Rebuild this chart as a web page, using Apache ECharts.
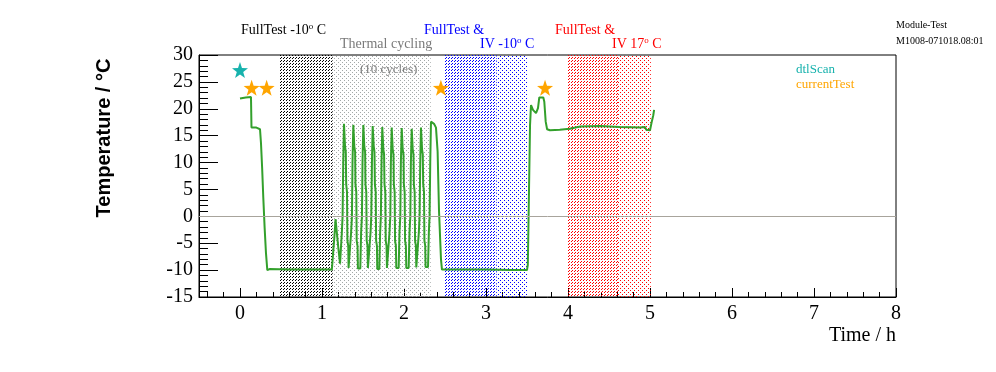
<!DOCTYPE html>
<html>
<head>
<meta charset="utf-8">
<script src="https://cdn.jsdelivr.net/npm/echarts@6/dist/echarts.min.js"></script>
<style>
html,body{margin:0;padding:0;background:#fff;}
#chart{width:996px;height:372px;}
</style>
</head>
<body>
<div id="chart"></div>
<script>
// ---- data (hours, °C) ----
const timeH = [
  0.000, 0.070, 0.134, 0.140, 0.160, 0.200, 0.244, 0.256, 0.270, 0.284, 0.300, 0.317, 0.333, 0.360, 0.600, 0.900, 1.120,
  1.134, 1.150, 1.165, 1.183, 1.200, 1.220,
  1.232, 1.242, 1.251, 1.259, 1.268, 1.276, 1.281, 1.290, 1.295, 1.305, 1.310, 1.320, 1.324,
  1.345, 1.355, 1.365, 1.372, 1.382, 1.389, 1.394, 1.404, 1.408, 1.418, 1.423, 1.433, 1.438,
  1.467, 1.477, 1.487, 1.494, 1.504, 1.511, 1.516, 1.526, 1.530, 1.540, 1.545, 1.555, 1.560,
  1.582, 1.592, 1.601, 1.609, 1.618, 1.626, 1.631, 1.640, 1.645, 1.655, 1.660, 1.670, 1.674,
  1.699, 1.709, 1.718, 1.726, 1.735, 1.743, 1.748, 1.757, 1.762, 1.772, 1.777, 1.787, 1.792,
  1.813, 1.823, 1.833, 1.840, 1.850, 1.857, 1.862, 1.872, 1.876, 1.886, 1.891, 1.901, 1.906,
  1.935, 1.945, 1.955, 1.962, 1.972, 1.979, 1.984, 1.994, 1.998, 2.008, 2.013, 2.023, 2.028,
  2.057, 2.067, 2.077, 2.084, 2.094, 2.101, 2.106, 2.116, 2.120, 2.130, 2.135, 2.145, 2.150,
  2.171, 2.181, 2.190, 2.198, 2.207, 2.215, 2.220, 2.229, 2.234, 2.244, 2.249, 2.259, 2.263,
  2.293, 2.303, 2.312, 2.320, 2.329, 2.350, 2.366, 2.390, 2.410, 2.427, 2.451, 2.463,
  2.600, 3.000, 3.300, 3.500, 3.510, 3.524, 3.537, 3.549, 3.573, 3.610, 3.634, 3.650, 3.699, 3.711, 3.728, 3.745,
  3.780, 3.900, 4.020, 4.150, 4.390, 4.630, 4.880, 4.940, 4.955, 5.000, 5.020, 5.040, 5.050
];
const tempC = [
  21.9, 22.1, 22.2, 16.5, 16.6, 16.5, 16.2, 13.6, 9.0, 3.5, -2.0, -6.9, -10.0, -9.8, -9.9, -9.9, -9.9,
  -9.8, -4.0, -0.5, -0.8, -6.0, -8.8,
  -8.8, -3.0, 0.0, 10.0, 17.2, 17.0, 13.0, 12.0, 6.0, 4.5, -4.5, -5.5, -9.6,
  -9.6, -3.0, 0.0, 10.0, 17.0, 16.8, 13.0, 12.0, 6.0, 4.5, -4.5, -5.5, -9.7,
  -9.7, -3.0, 0.0, 10.0, 17.0, 16.8, 13.0, 12.0, 6.0, 4.5, -4.5, -5.5, -9.6,
  -9.6, -3.0, 0.0, 10.0, 16.8, 16.6, 13.0, 12.0, 6.0, 4.5, -4.5, -5.5, -9.8,
  -9.8, -3.0, 0.0, 10.0, 16.6, 16.4, 12.5, 11.5, 6.0, 4.5, -4.5, -5.5, -9.6,
  -9.6, -3.0, 0.0, 10.0, 16.5, 16.3, 12.5, 11.5, 6.0, 4.5, -4.5, -5.5, -9.6,
  -9.6, -3.0, 0.0, 10.0, 16.4, 16.2, 12.5, 11.5, 6.0, 4.5, -4.5, -5.5, -9.6,
  -9.6, -3.0, 0.0, 10.0, 16.3, 16.1, 12.5, 11.5, 6.0, 4.5, -4.5, -5.5, -9.5,
  -9.5, -3.0, 0.0, 10.0, 16.5, 16.3, 12.5, 11.5, 6.0, 4.5, -4.5, -5.5, -9.4,
  -9.4, -3.0, 0.0, 10.0, 17.6, 17.5, 17.2, 16.5, 12.0, 1.0, -8.0, -9.9,
  -9.9, -9.9, -10.0, -10.0, -9.0, 4.4, 17.0, 20.7, 19.8, 19.2, 20.1, 22.1, 22.1, 21.3, 17.6, 16.2,
  16.0, 16.1, 16.3, 16.7, 16.8, 16.6, 16.5, 16.6, 16.1, 16.0, 17.5, 18.8, 19.8
];
const dtlScanPts = [[0.0, 27.2]];
const currentTestPts = [[0.142, 23.9], [0.325, 23.9], [2.45, 23.9], [3.72, 23.9]];

// shaded test periods [start h, end h]
const regFullTestCold = [0.48, 1.13];
const regThermalCycling = [1.13, 2.326];
const regBlueHatch = [2.49, 3.13];
const regBlueDots = [3.13, 3.50];
const regRedHatch = [4.00, 4.61];
const regRedDots = [4.61, 5.01];

const xTicks = [0, 1, 2, 3, 4, 5, 6, 7, 8];
const yTicks = [-15, -10, -5, 0, 5, 10, 15, 20, 25, 30];

// ---- pattern helpers ----
function pattern(kind, color, size) {
  const c = document.createElement('canvas');
  c.width = size; c.height = size;
  const g = c.getContext('2d');
  g.fillStyle = color;
  for (let y = 0; y < size; y++) {
    for (let x = 0; x < size; x++) {
      let on;
      if (kind === 'hatch') on = ((x + y) % 3 === 2) && (x % 3 !== 0);
      else on = ((x % 4 === 0) && (y % 4 === 0)) || ((x % 4 === 2) && (y % 4 === 2));
      if (on) g.fillRect(x, y, 1, 1);
    }
  }
  return { image: c, repeat: 'repeat' };
}

const star = 'path://M0,-10 L2.35,-3.24 L9.51,-3.09 L3.8,1.24 L5.88,8.09 L0,4 L-5.88,8.09 L-3.8,1.24 L-9.51,-3.09 L-2.35,-3.24 Z';
const serif = '"Liberation Serif", "Times New Roman", serif';

const lineData = timeH.map((t, i) => [t, tempC[i]]);

function areaSeries(name, r, pat) {
  return {
    name: name, type: 'line', data: [], z: 1, silent: true,
    markArea: {
      silent: true,
      itemStyle: { color: pat, opacity: 1 },
      data: [[{ xAxis: r[0] }, { xAxis: r[1] }]]
    }
  };
}

const chart = echarts.init(document.getElementById('chart'), null, { renderer: 'canvas' });

function sup(a, c, color, x, y) {
  return {
    type: 'text', x: x, y: y,
    style: {
      text: '{n|' + a + '}{s|o}{n|' + c + '}',
      rich: {
        n: { fontFamily: serif, fontSize: 14, fill: color, color: color, lineHeight: 16 },
        s: { fontFamily: serif, fontSize: 9, fill: color, color: color, lineHeight: 16, verticalAlign: 'top', padding: [0, 0, 6, 0] }
      }
    }
  };
}
function txt(x, y, s, color, size, align) {
  return { type: 'text', x: x, y: y, style: { text: s, fill: color, font: size + 'px ' + serif, align: align || 'left', verticalAlign: 'middle' } };
}

const option = {
  animation: false,
  backgroundColor: '#fff',
  grid: { left: 199, right: 100, top: 55, bottom: 75, show: true, borderColor: '#000', borderWidth: 1, backgroundColor: 'transparent' },
  xAxis: {
    type: 'value', min: -0.5, max: 8, minInterval: 1, maxInterval: 1,
    axisLine: { show: true, onZero: false, lineStyle: { color: '#000', width: 1 } },
    axisTick: { show: true, inside: true, length: 9, lineStyle: { color: '#000' } },
    minorTick: { show: true, splitNumber: 5, length: 5, lineStyle: { color: '#000' } },
    splitLine: { show: false },
    axisLabel: {
      margin: 7, color: '#000', fontFamily: serif, fontSize: 20,
      formatter: v => (xTicks.indexOf(v) >= 0 ? String(v) : '')
    },
    name: 'Time / h', nameLocation: 'end', nameGap: 0,
    nameTextStyle: { color: '#000', fontFamily: serif, fontSize: 20, align: 'right', verticalAlign: 'top', padding: [29, 0, 0, 0] }
  },
  yAxis: {
    type: 'value', min: -15, max: 30, interval: 5,
    axisLine: { show: true, onZero: false, lineStyle: { color: '#000', width: 1 } },
    axisTick: { show: true, inside: true, length: 19, lineStyle: { color: '#000' } },
    minorTick: { show: true, splitNumber: 5, length: 9, lineStyle: { color: '#000' } },
    splitLine: { show: false },
    axisLabel: { margin: 6, color: '#000', fontFamily: serif, fontSize: 20,
      formatter: v => (yTicks.indexOf(v) >= 0 ? String(v) : '') }
  },
  graphic: [
    sup('FullTest -10', ' C', '#000', 241, 22),
    sup('IV -10', ' C', '#0000ff', 480, 36),
    sup('IV 17', ' C', '#ff0000', 612, 36),
    txt(340, 44, 'Thermal cycling', '#7a7a7a', 14),
    txt(424, 30, 'FullTest &', '#0000ff', 14),
    txt(555, 30, 'FullTest &', '#ff0000', 14),
    txt(360, 70, '(10 cycles)', '#7a7a7a', 13),
    txt(896, 25, 'Module-Test', '#000', 10),
    txt(896, 41, 'M1008-071018.08:01', '#000', 10),
    txt(796, 70, 'dtlScan', '#17b2ad', 13),
    txt(796, 85, 'currentTest', '#ffa500', 13),
    {
      type: 'text', x: 104, y: 138, rotation: Math.PI / 2,
      style: { text: 'Temperature / °C', fill: '#000', font: 'bold 20px "Liberation Sans", Arial, sans-serif', align: 'center', verticalAlign: 'middle' }
    }
  ],
  series: [
    areaSeries('FullTest -10 C', regFullTestCold, pattern('hatch', '#000000', 6)),
    areaSeries('Thermal cycling', regThermalCycling, pattern('dots', '#a3a8a8', 8)),
    areaSeries('FullTest & IV -10 C', regBlueHatch, pattern('hatch', '#0000ff', 12)),
    areaSeries('IV -10 C dots', regBlueDots, pattern('dots', '#0000ff', 16)),
    areaSeries('FullTest & IV 17 C', regRedHatch, pattern('hatch', '#ff0000', 18)),
    areaSeries('IV 17 C dots', regRedDots, pattern('dots', '#ff0000', 24)),
    {
      name: 'zero', type: 'line', data: [], z: 2, silent: true,
      markLine: {
        silent: true, symbol: 'none', label: { show: false },
        lineStyle: { color: '#a8a49c', width: 1, type: 'solid' },
        data: [{ yAxis: 0 }]
      }
    },
    {
      name: 'Temperature', type: 'line', data: lineData, z: 3,
      showSymbol: false, symbol: 'none',
      lineStyle: { color: '#33a02c', width: 2 }
    },
    {
      name: 'dtlScan', type: 'scatter', data: dtlScanPts, z: 4,
      symbol: star, symbolSize: 16, itemStyle: { color: '#17b2ad', opacity: 1 }
    },
    {
      name: 'currentTest', type: 'scatter', data: currentTestPts, z: 4,
      symbol: star, symbolSize: 16, itemStyle: { color: '#ffa500', opacity: 1 }
    }
  ]
};
chart.setOption(option);
</script>
</body>
</html>
